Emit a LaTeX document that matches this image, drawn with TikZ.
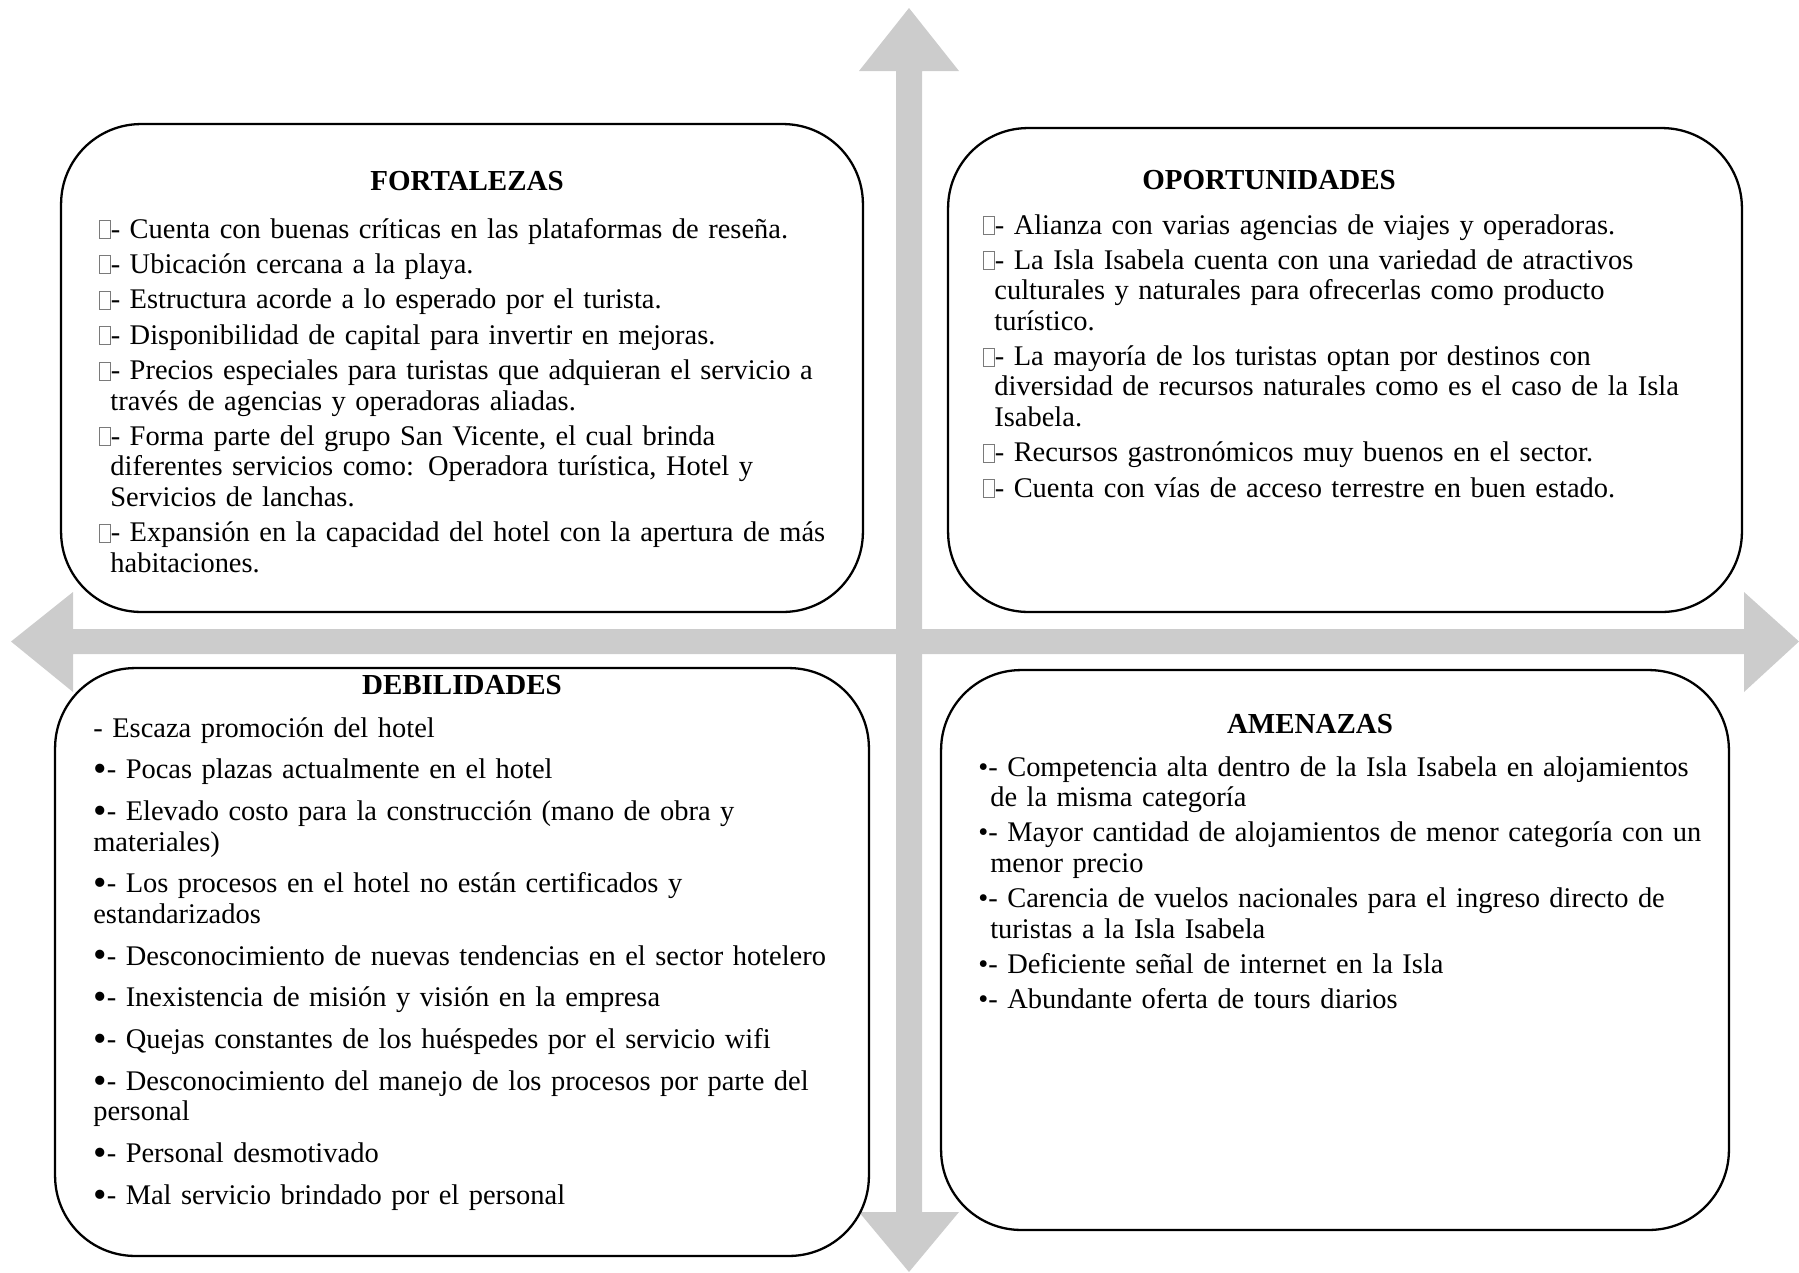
\documentclass[tikz,border=0pt]{standalone}
\usepackage{fontspec}
\setmainfont{Liberation Serif}
\usepackage{xcolor}
\usepackage{graphicx}
\usetikzlibrary{positioning}
\definecolor{grisflecha}{HTML}{CCCCCC}
\definecolor{gristofu}{HTML}{7A7A7A}

\newlength{\sangria}
\newcommand{\elem}[1]{\hangindent=\sangria\hangafter=1\relax #1\par}
\newcommand{\tofu}{{\color{gristofu}\setlength{\fboxsep}{0pt}\setlength{\fboxrule}{0.5pt}\fbox{\rule{0pt}{0.6em}\hspace{0.34em}}}}
\newcommand{\bolaD}{\raisebox{-0.1em}{\scalebox{1.35}{•}}}

\begin{document}
\begin{tikzpicture}[
  x=0.02cm, y=-0.02cm,
  caja/.style={draw, line width=1.3pt, fill=white, rounded corners=1.6cm, inner sep=0pt},
  titulo/.style={anchor=base, inner sep=0pt, font=\fontsize{16.5pt}{17.3pt}\selectfont\bfseries},
  cuerpo/.style={anchor=base west, inner sep=0pt, text width=16cm, align=left,
    font=\fontsize{16.2pt}{17.3pt}\selectfont},
  flecha/.style={fill=grisflecha}
]
  \useasboundingbox (0,0) rectangle (1799,1272);

  % ejes
  \fill[flecha] (909,8) -- (959,71) -- (922,71) -- (922,1212) -- (959,1212) -- (909,1272)
    -- (859,1212) -- (896,1212) -- (896,71) -- (859,71) -- cycle;
  \fill[flecha] (11,641.5) -- (73,592) -- (73,629) -- (1744,629) -- (1744,592) -- (1799,641.5)
    -- (1744,692) -- (1744,654) -- (73,654) -- (73,692) -- cycle;

  % cuadrantes
  \node[caja, minimum width=16.04cm, minimum height=9.76cm] (fort) at (462,368) {};
  \node[caja, minimum width=15.88cm, minimum height=9.68cm] (opor) at (1345,370) {};
  \node[caja, minimum width=16.28cm, minimum height=11.76cm] (debi) at (462,962) {};
  \node[caja, minimum width=15.76cm, minimum height=11.2cm] (amen) at (1335,950) {};

  \node[titulo] (fortT) at (467,190) {FORTALEZAS};
  \node[titulo] (oporT) at (1269,189) {OPORTUNIDADES};
  \node[titulo] (debiT) at (462,694) {DEBILIDADES};
  \node[titulo] (amenT) at (1310,733) {AMENAZAS};

  \node[cuerpo] (fortL) at (99,238) {\setlength{\sangria}{6.3pt}\setlength{\parskip}{2.85pt}%
    \elem{\tofu- Cuenta con buenas críticas en las plataformas de reseña.}
    \elem{\tofu- Ubicación cercana a la playa.}
    \elem{\tofu- Estructura acorde a lo esperado por el turista.}
    \elem{\tofu- Disponibilidad de capital para invertir en mejoras.}
    \elem{\tofu- Precios especiales para turistas que adquieran el servicio a\newline través de agencias y operadoras aliadas.}
    \elem{\tofu- Forma parte del grupo San Vicente, el cual brinda\newline diferentes servicios como: Operadora turística, Hotel y\newline Servicios de lanchas.}
    \elem{\tofu- Expansión en la capacidad del hotel con la apertura de más\newline habitaciones.}};

  \node[cuerpo] (oporL) at (983,234) {\setlength{\sangria}{6.3pt}\setlength{\parskip}{2.85pt}%
    \elem{\tofu- Alianza con varias agencias de viajes y operadoras.}
    \elem{\tofu- La Isla Isabela cuenta con una variedad de atractivos\newline culturales y naturales para ofrecerlas como producto\newline turístico.}
    \elem{\tofu- La mayoría de los turistas optan por destinos con\newline diversidad de recursos naturales como es el caso de la Isla\newline Isabela.}
    \elem{\tofu- Recursos gastronómicos muy buenos en el sector.}
    \elem{\tofu- Cuenta con vías de acceso terrestre en buen estado.}};

  \node[cuerpo] (debiL) at (93,737) {\setlength{\sangria}{0pt}\setlength{\parskip}{6.5pt}%
    \elem{- Escaza promoción del hotel}
    \elem{\bolaD- Pocas plazas actualmente en el hotel}
    \elem{\bolaD- Elevado costo para la construcción (mano de obra y\newline materiales)}
    \elem{\bolaD- Los procesos en el hotel no están certificados y\newline estandarizados}
    \elem{\bolaD- Desconocimiento de nuevas tendencias en el sector hotelero}
    \elem{\bolaD- Inexistencia de misión y visión en la empresa}
    \elem{\bolaD- Quejas constantes de los huéspedes por el servicio wifi}
    \elem{\bolaD- Desconocimiento del manejo de los procesos por parte del\newline personal}
    \elem{\bolaD- Personal desmotivado}
    \elem{\bolaD- Mal servicio brindado por el personal}};

  \node[cuerpo] (amenL) at (978,776) {\setlength{\sangria}{6.8pt}\setlength{\parskip}{2.85pt}%
    \elem{•- Competencia alta dentro de la Isla Isabela en alojamientos\newline de la misma categoría}
    \elem{•- Mayor cantidad de alojamientos de menor categoría con un\newline menor precio}
    \elem{•- Carencia de vuelos nacionales para el ingreso directo de\newline turistas a la Isla Isabela}
    \elem{•- Deficiente señal de internet en la Isla}
    \elem{•- Abundante oferta de tours diarios}};
\end{tikzpicture}
\end{document}
